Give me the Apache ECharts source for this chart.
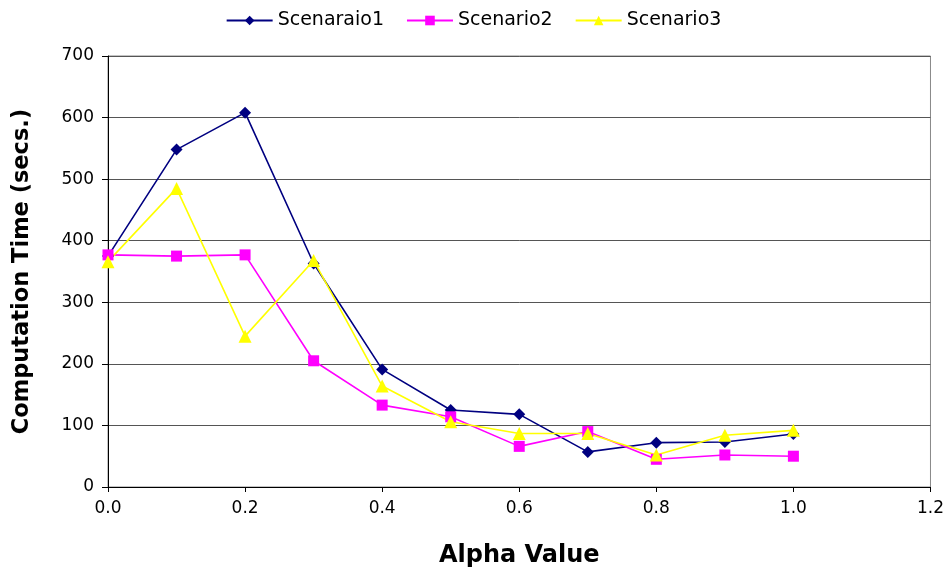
<!DOCTYPE html>
<html>
<head>
<meta charset="utf-8">
<script src="https://cdn.jsdelivr.net/npm/echarts@6/dist/echarts.min.js"></script>
<style>html,body{margin:0;padding:0;background:#fff}#c{width:947px;height:573px}</style>
</head>
<body>
<div id="c"></div>
<script>
var alphas = [0.0, 0.1, 0.2, 0.3, 0.4, 0.5, 0.6, 0.7, 0.8, 0.9, 1.0];
var scenario1 = [375, 548, 608, 363, 191, 125, 118, 57, 72, 73, 86];
var scenario2 = [377, 375, 377, 205, 133, 114, 66, 90, 45, 52, 50];
var scenario3 = [366, 485, 245, 368, 164, 106, 87, 87, 52, 84, 92];
var seriesNames = ['Scenaraio1', 'Scenario2', 'Scenario3'];
var seriesColors = ['#000080', '#FF00FF', '#FFFF00'];
var seriesSymbols = ['diamond', 'rect', 'triangle'];
var seriesSymbolSizes = [12, 11, 13];

function pairs(vals){ return alphas.map(function(a,i){ return [a, vals[i]]; }); }
var allVals = [scenario1, scenario2, scenario3];

var chart = echarts.init(document.getElementById('c'), null, {renderer:'canvas'});
var font = '"DejaVu Sans", sans-serif';
chart.setOption({
  animation: false,
  backgroundColor: '#fff',
  textStyle: {fontFamily: font},
  legend: {
    top: 6, left: 'center',
    itemWidth: 46, itemHeight: 12, itemGap: 22,
    textStyle: {fontSize: 19, color: '#000', fontFamily: font},
    data: seriesNames
  },
  grid: {left: 108, right: 16, top: 56, bottom: 85, show: true, borderColor: '#888', borderWidth: 1},
  xAxis: {
    type: 'value', min: 0, max: 1.2, interval: 0.2,
    name: 'Alpha Value', nameLocation: 'middle', nameGap: 57,
    nameTextStyle: {fontSize: 24, fontWeight: 'bold', color: '#000', fontFamily: font},
    axisLine: {show: true, lineStyle: {color: '#000', width: 1}},
    axisTick: {show: true, length: 5, lineStyle: {color: '#000'}},
    axisLabel: {fontSize: 17, color: '#000', margin: 13, formatter: function(v){ return v.toFixed(1); }},
    splitLine: {show: false}
  },
  yAxis: {
    type: 'value', min: 0, max: 700, interval: 100,
    name: 'Computation Time (secs.)', nameLocation: 'middle', nameGap: 74,
    nameTextStyle: {fontSize: 22.5, fontWeight: 'bold', color: '#000', fontFamily: font},
    axisLine: {show: true, lineStyle: {color: '#000', width: 1}},
    axisTick: {show: true, length: 6, lineStyle: {color: '#000'}},
    axisLabel: {fontSize: 17, color: '#000', margin: 14},
    splitLine: {show: true, lineStyle: {color: '#555', width: 1}}
  },
  series: allVals.map(function(v, i){
    return {
      name: seriesNames[i], type: 'line', data: pairs(v),
      symbol: seriesSymbols[i], symbolSize: seriesSymbolSizes[i], showAllSymbol: true,
      itemStyle: {color: seriesColors[i]},
      lineStyle: {color: seriesColors[i], width: 1.6}
    };
  })
});
</script>
</body>
</html>
